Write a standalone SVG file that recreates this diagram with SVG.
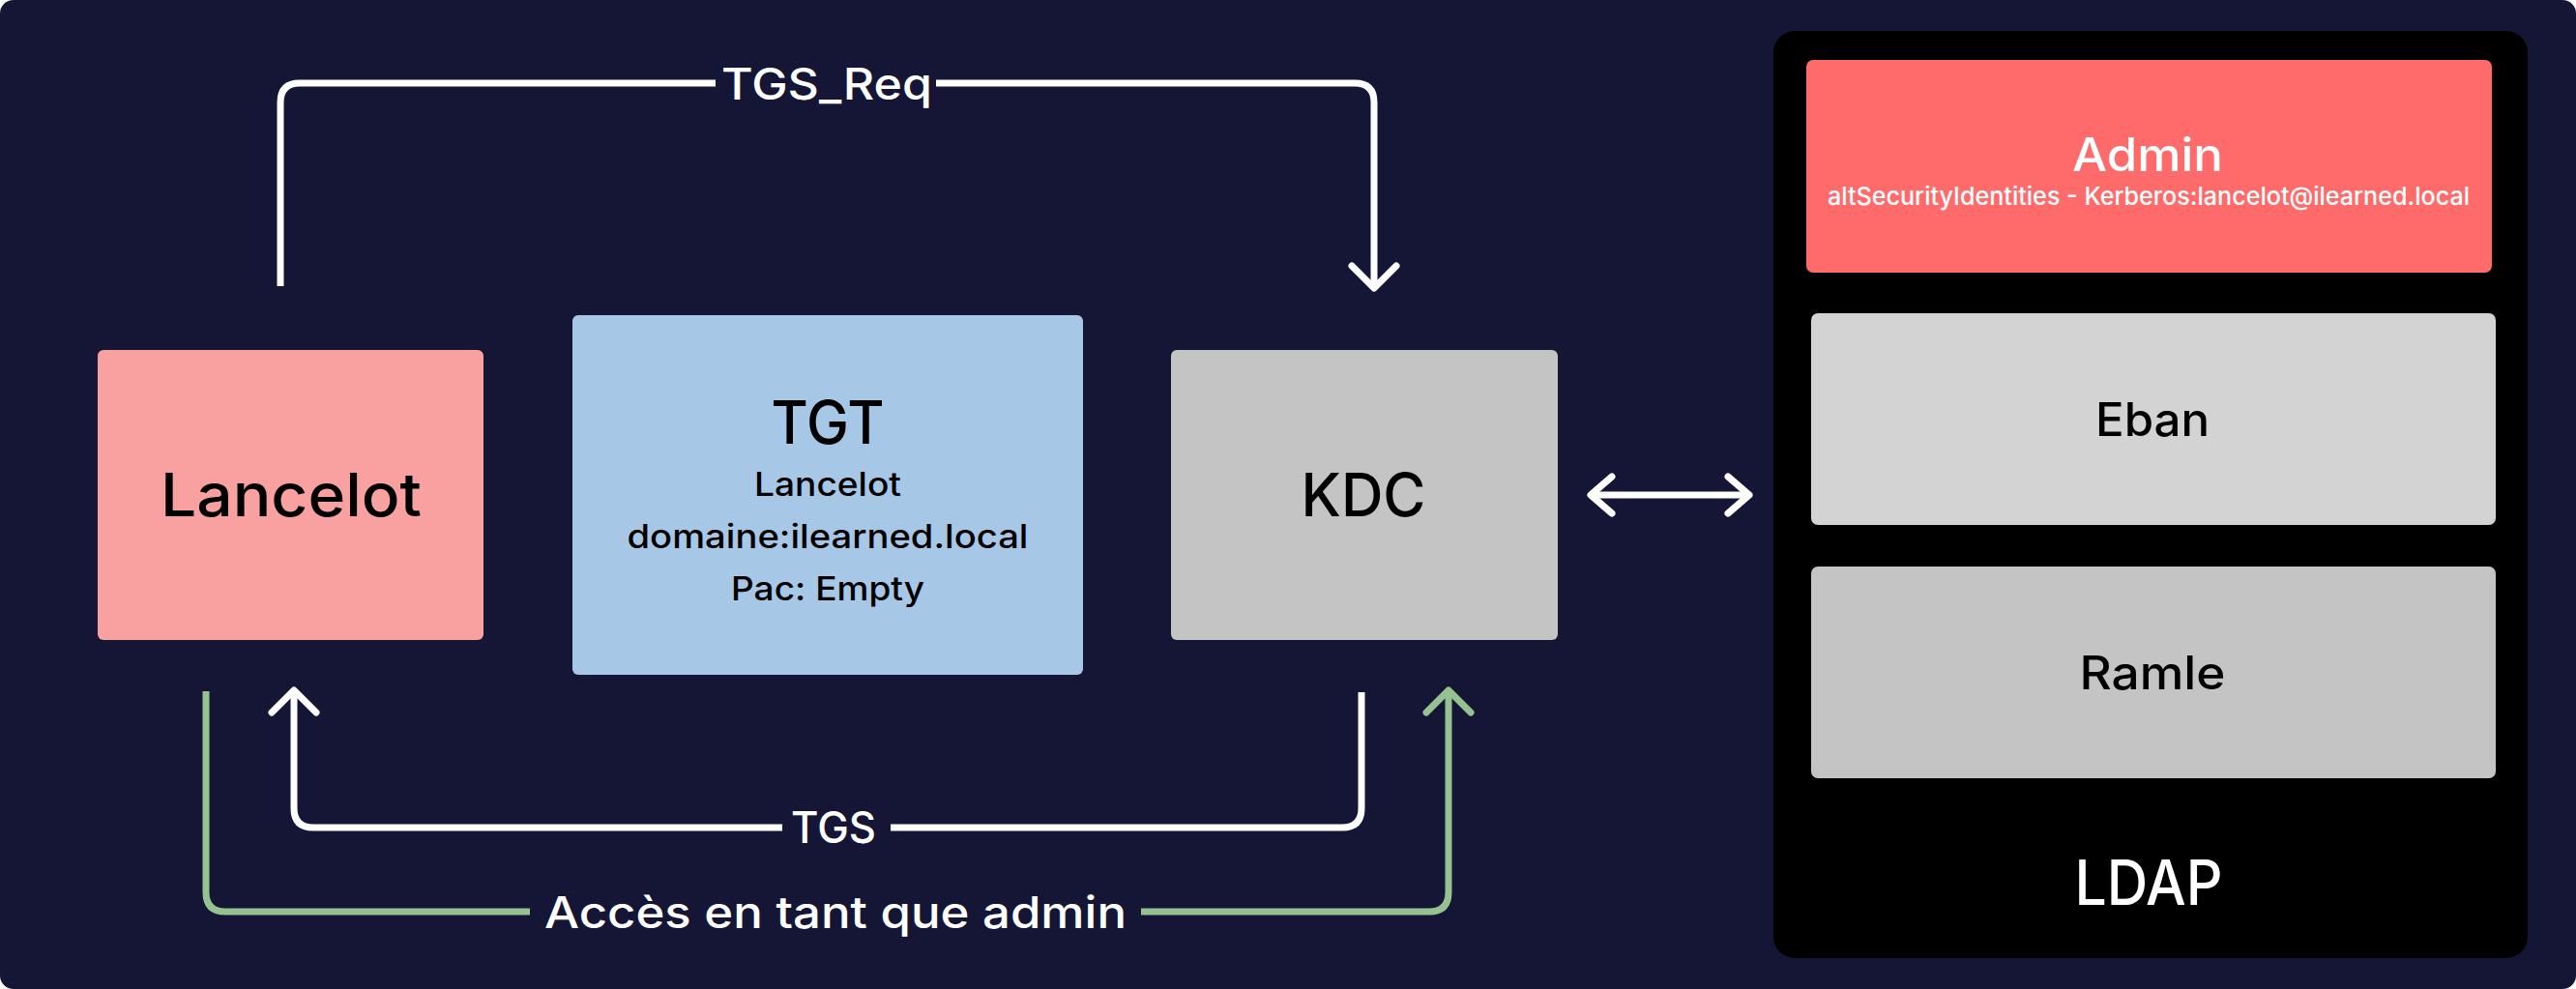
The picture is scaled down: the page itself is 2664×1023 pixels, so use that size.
<svg xmlns="http://www.w3.org/2000/svg" width="2664" height="1023" viewBox="0 0 2664 1023">
<style>
text{font-family:Inter,"Open Sans","Liberation Sans",sans-serif;text-anchor:middle;font-weight:500}
.dark{fill:#000}
.light{fill:#fff}
.big{font-size:62px}
.sub{font-size:34px}
.lbl{font-size:45px}
.item{font-size:48px}
.ln{fill:none;stroke-width:7;stroke-linejoin:round}
.w{stroke:#fff}
.g{stroke:#96C291}
.head{fill:none;stroke-width:7;stroke-linecap:round;stroke-linejoin:round}
</style>
<rect x="0" y="0" width="2664" height="1023" fill="#ffffff"/>
<rect x="0" y="0" width="2664" height="1023" rx="14" fill="#151635"/>
<g id="connectors">
<path class="ln w" d="M290 296 V106 Q290 86 310 86 H740"/>
<path class="ln w" d="M968 86 H1401 Q1421 86 1421 106 V296"/>
<polyline class="head w" points="1398,275 1421,298 1444,275"/>
<path class="ln w" d="M1408 716 V836 Q1408 856 1388 856 H921"/>
<path class="ln w" d="M809 856 H324 Q304 856 304 836 V716"/>
<polyline class="head w" points="281,737 304,714 327,737"/>
<path class="ln g" d="M213 715 V923 Q213 943 233 943 H548"/>
<path class="ln g" d="M1180 943 H1478 Q1498 943 1498 923 V716"/>
<polyline class="head g" points="1475,737 1498,714 1521,737"/>
<path class="ln w" d="M1647 512 H1807"/>
<polyline class="head w" points="1667,493 1645,512 1667,531"/>
<polyline class="head w" points="1787,493 1809,512 1787,531"/>
<text class="light lbl" x="855" y="103" textLength="218" lengthAdjust="spacingAndGlyphs">TGS_Req</text>
<text class="light lbl" x="862" y="872" textLength="88" lengthAdjust="spacingAndGlyphs">TGS</text>
<text class="light lbl" x="864" y="960" textLength="602" lengthAdjust="spacingAndGlyphs">Accès en tant que admin</text>
</g>
<g id="lancelot">
<rect x="101" y="362" width="399" height="300" rx="6" fill="#F9A0A0"/>
<text class="dark big" x="301" y="534" textLength="270" lengthAdjust="spacingAndGlyphs">Lancelot</text>
</g>
<g id="tgt">
<rect x="592" y="326" width="528" height="372" rx="6" fill="#A7C7E7"/>
<text class="dark big" x="856" y="459" textLength="117" lengthAdjust="spacingAndGlyphs">TGT</text>
<text class="dark sub" x="856" y="513" textLength="152" lengthAdjust="spacingAndGlyphs">Lancelot</text>
<text class="dark sub" x="856" y="567" textLength="415" lengthAdjust="spacingAndGlyphs">domaine:ilearned.local</text>
<text class="dark sub" x="856" y="621" textLength="200" lengthAdjust="spacingAndGlyphs">Pac: Empty</text>
</g>
<g id="kdc">
<rect x="1211" y="362" width="400" height="300" rx="6" fill="#C4C4C4"/>
<text class="dark big" x="1410" y="534" textLength="129" lengthAdjust="spacingAndGlyphs">KDC</text>
</g>
<g id="ldap">
<rect x="1834" y="32" width="780" height="959" rx="22" fill="#000"/>
<text class="light" x="2222" y="936" font-size="64" textLength="153" lengthAdjust="spacingAndGlyphs">LDAP</text>
</g>
<g id="admin">
<rect x="1868" y="62" width="709" height="220" rx="7" fill="#FF6B6B"/>
<text class="light item" x="2221" y="177" textLength="156" lengthAdjust="spacingAndGlyphs">Admin</text>
<text class="light" x="2222" y="212" font-size="26" textLength="664" lengthAdjust="spacingAndGlyphs">altSecurityIdentities - Kerberos:lancelot@ilearned.local</text>
</g>
<g id="eban">
<rect x="1873" y="324" width="708" height="219" rx="7" fill="#D3D3D3"/>
<text class="dark item" x="2226" y="451" textLength="118" lengthAdjust="spacingAndGlyphs">Eban</text>
</g>
<g id="ramle">
<rect x="1873" y="586" width="708" height="219" rx="7" fill="#C4C4C4"/>
<text class="dark item" x="2226" y="713" textLength="151" lengthAdjust="spacingAndGlyphs">Ramle</text>
</g>
</svg>
